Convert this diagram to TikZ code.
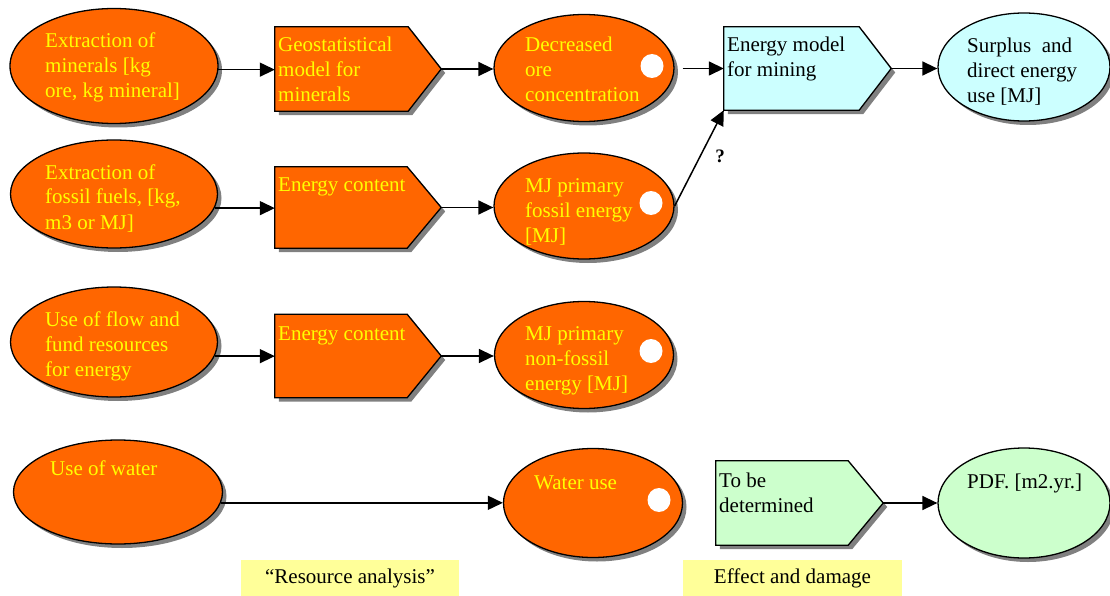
\documentclass[tikz,border=0pt]{standalone}
\usepackage{fontspec}
\setmainfont{Liberation Serif}
\usetikzlibrary{shapes.geometric,arrows.meta,shadows,calc}
\definecolor{orng}{HTML}{FF6600}
\definecolor{ytxt}{HTML}{FFFF00}
\definecolor{cyanf}{HTML}{CCFFFF}
\definecolor{greenf}{HTML}{CCFFCC}
\definecolor{labelbg}{HTML}{FFFF99}
\definecolor{shad}{HTML}{808080}
\tikzset{
 shd/.style={drop shadow={shadow xshift=4pt,shadow yshift=-4pt,fill=shad,opacity=1}},
 ell/.style={ellipse, draw, line width=1.3pt, inner sep=0pt, shd},
 frame/.style={rectangle, inner sep=0pt, draw=none},
 pent/.style={draw, line width=1.3pt, shd},
 arr/.style={-{Triangle[length=15pt,width=14pt]}, line width=1.5pt},
 wtxt/.style={anchor=base west, align=left, inner sep=0pt, text=ytxt, font=\fontsize{21}{25}\selectfont},
 btxt/.style={wtxt, text=black},
 dot/.style={ellipse, fill=white, inner sep=0pt, minimum width=23pt, minimum height=24pt},
 lbl/.style={rectangle, fill=labelbg, minimum height=36pt, inner sep=0pt, font=\fontsize{21}{25}\selectfont}
}
\newcommand\pentpath[3]{\path[pent,fill=#2] (#1.north west) -- ([xshift=-#3pt]#1.north east) -- (#1.east) -- ([xshift=-#3pt]#1.south east) -- (#1.south west) -- cycle;}
\begin{document}
\begin{tikzpicture}[x=1pt,y=-1pt]
\useasboundingbox (0,0) rectangle (1110,596);
\fill[white] (0,0) rectangle (1110,596);

% ---- row 1 (text nodes anchored at the baseline of their last line)
\node[ell, fill=orng, minimum width=208pt, minimum height=115pt] (A1) at (114,66) {};
\node[wtxt] (tA1) at (45,98) {Extraction of\\minerals [kg\\ore, kg mineral]};
\node[frame, minimum width=166pt, minimum height=84pt] (B1) at (358,69) {};
\pentpath{B1}{orng}{33}
\node[wtxt] (tB1) at (278,102) {Geostatistical\\model for\\minerals};
\node[ell, fill=orng, minimum width=180pt, minimum height=107pt] (C1) at (584,68) {};
\node[dot] (dC1) at (652,66) {};
\node[wtxt] (tC1) at (525,102) {Decreased\\ore\\concentration};
\node[frame, minimum width=167pt, minimum height=83pt] (D1) at (807.5,68.5) {};
\pentpath{D1}{cyanf}{32}
\node[btxt] (tD1) at (727,77) {Energy model\\for mining};
\node[ell, fill=cyanf, minimum width=172pt, minimum height=108pt] (E1) at (1024,67) {};
\node[btxt] (tE1) at (967,103) {Surplus~ and\\direct energy\\use {[MJ]}};

% ---- row 2
\node[ell, fill=orng, minimum width=207pt, minimum height=108pt] (A2) at (114,194) {};
\node[wtxt] (tA2) at (45,229) {Extraction of\\fossil fuels, {[kg,}\\m3 or MJ]};
\node[frame, minimum width=166pt, minimum height=81pt] (B2) at (358,207.5) {};
\pentpath{B2}{orng}{34}
\node[wtxt] (tB2) at (278,191) {Energy content};
\node[ell, fill=orng, minimum width=180pt, minimum height=106pt] (C2) at (584,206) {};
\node[dot] (dC2) at (651,203) {};
\node[wtxt] (tC2) at (525,242) {MJ primary\\fossil energy\\{[MJ]}};

% ---- row 3
\node[ell, fill=orng, minimum width=207pt, minimum height=110pt] (A3) at (114,342) {};
\node[wtxt] (tA3) at (45,376) {Use of flow and\\fund resources\\for energy};
\node[frame, minimum width=166pt, minimum height=83pt] (B3) at (358,356) {};
\pentpath{B3}{orng}{34}
\node[wtxt] (tB3) at (278,340) {Energy content};
\node[ell, fill=orng, minimum width=179pt, minimum height=107pt] (C3) at (584,355) {};
\node[dot] (dC3) at (651,351) {};
\node[wtxt] (tC3) at (525,390) {MJ primary\\non-fossil\\energy {[MJ]}};

% ---- row 4
\node[ell, fill=orng, minimum width=209pt, minimum height=104pt] (A4) at (118,492) {};
\node[wtxt] (tA4) at (50,475) {Use of water};
\node[ell, fill=orng, minimum width=179pt, minimum height=109pt] (C4) at (593,503) {};
\node[dot] (dC4) at (659,500) {};
\node[wtxt] (tC4) at (534,489) {Water use};
\node[frame, minimum width=167pt, minimum height=84pt] (D4) at (799.5,503) {};
\pentpath{D4}{greenf}{35}
\node[btxt] (tD4) at (719,512) {To be\\determined};
\node[ell, fill=greenf, minimum width=172pt, minimum height=110pt] (E4) at (1024,503) {};
\node[btxt] (tE4) at (967,488) {PDF. {[m2.yr.]}};

% ---- labels
\node[lbl, minimum width=218pt] (RA) at (350,578) {``Resource analysis''};
\node[lbl, minimum width=219pt] (ED) at (792.5,578) {Effect and damage};
\node[font=\fontsize{19}{22}\selectfont\bfseries, inner sep=0pt] (q) at (720,156) {?};

% ---- connectors
\draw[arr] (A1.-2) -- (A1.-2 -| B1.west);
\draw[arr] (B1.east) -- (B1.east -| C1.west);
\draw[arr] ([xshift=8pt]C1.east |- D1.west) -- (D1.west);
\draw[arr] (D1.east) -- (D1.east -| E1.west);
\draw[arr] (A2.-8.6) -- (A2.-8.6 -| B2.west);
\draw[arr] (B2.east) -- (B2.east -| C2.west);
\draw[arr] (C2.east) -- (D1.south west);
\draw[arr] (A3.-8.6) -- (A3.-8.6 -| B3.west);
\draw[arr] (B3.east) -- (B3.east -| C3.west);
\draw[arr] (A4.-6.2) -- (A4.-6.2 -| C4.west);
\draw[arr] (D4.east) -- (D4.east -| E4.west);
\end{tikzpicture}
\end{document}
